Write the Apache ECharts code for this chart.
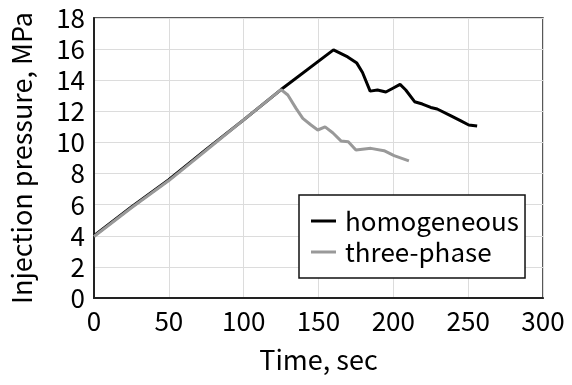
<!DOCTYPE html>
<html>
<head>
<meta charset="utf-8">
<script src="https://cdn.jsdelivr.net/npm/echarts@6/dist/echarts.min.js"></script>
<style>html,body{margin:0;padding:0;background:#fff}#c{width:572px;height:385px}</style>
</head>
<body>
<div id="c"></div>
<script>
const xTicks = [0, 50, 100, 150, 200, 250, 300];
const yTicks = [0, 2, 4, 6, 8, 10, 12, 14, 16, 18];
const seriesNames = ['homogeneous', 'three-phase'];
const homogeneous = [
  [0, 4.0], [25, 5.85], [50, 7.6], [75, 9.55], [100, 11.45], [125, 13.4],
  [160, 15.95], [169.5, 15.5], [175.6, 15.1], [179.4, 14.5], [184.5, 13.3],
  [189.4, 13.37], [195, 13.24], [199.4, 13.47], [204.5, 13.73], [208.3, 13.37],
  [214.2, 12.62], [219.4, 12.47], [225, 12.25], [229.3, 12.15], [238.2, 11.72],
  [244.8, 11.4], [250.4, 11.12], [256, 11.05]
];
const threePhase = [
  [0, 3.95], [25, 5.8], [50, 7.55], [75, 9.5], [100, 11.45], [125, 13.4],
  [129.5, 13.05], [135, 12.19], [139.5, 11.55], [145, 11.12], [149.5, 10.8],
  [154.4, 11.0], [159.5, 10.62], [165, 10.1], [169.9, 10.05], [175, 9.51],
  [185, 9.62], [193.8, 9.47], [200.5, 9.15], [210.4, 8.82]
];
const FONT = '"Noto Sans CJK JP", "Noto Sans", sans-serif';
const chart = echarts.init(document.getElementById('c'), null, {renderer: 'canvas'});
chart.setOption({
  animation: false,
  backgroundColor: '#fff',
  grid: {left: 92, right: 29, top: 18, bottom: 87, show: true, borderColor: '#222', borderWidth: 1.5, containLabel: false},
  legend: {
    data: seriesNames,
    orient: 'vertical',
    left: 299, top: 195,
    padding: [13, 6, 13, 12],
    itemGap: 5,
    itemWidth: 25, itemHeight: 3,
    borderColor: '#111', borderWidth: 1.5,
    backgroundColor: '#fff',
    icon: 'rect',
    textStyle: {fontFamily: FONT, fontSize: 26, color: '#000', lineHeight: 26, padding: [0, 0, 0, 4]}
  },
  xAxis: {
    type: 'value', min: 0, max: 300, interval: 50,
    name: 'Time, sec', nameLocation: 'middle', nameGap: 48,
    nameTextStyle: {fontFamily: FONT, fontSize: 27, color: '#000'},
    axisLine: {show: true, lineStyle: {color: '#222', width: 2}},
    axisTick: {show: false},
    axisLabel: {fontFamily: FONT, fontSize: 26, color: '#000', margin: 10},
    splitLine: {show: true, lineStyle: {color: '#dcdcdc', width: 1}}
  },
  yAxis: {
    type: 'value', min: 0, max: 18, interval: 2,
    name: 'Injection pressure, MPa', nameLocation: 'middle', nameGap: 59,
    nameTextStyle: {fontFamily: FONT, fontSize: 27, color: '#000'},
    axisLine: {show: true, lineStyle: {color: '#222', width: 2}},
    axisTick: {show: false},
    axisLabel: {fontFamily: FONT, fontSize: 26, color: '#000', margin: 9},
    splitLine: {show: true, lineStyle: {color: '#dcdcdc', width: 1}}
  },
  series: [
    {name: seriesNames[0], type: 'line', data: homogeneous, showSymbol: false, symbol: 'none',
     lineStyle: {color: '#000', width: 3}, itemStyle: {color: '#000'}},
    {name: seriesNames[1], type: 'line', data: threePhase, showSymbol: false, symbol: 'none',
     lineStyle: {color: '#999', width: 3}, itemStyle: {color: '#999'}}
  ]
});
</script>
</body>
</html>
